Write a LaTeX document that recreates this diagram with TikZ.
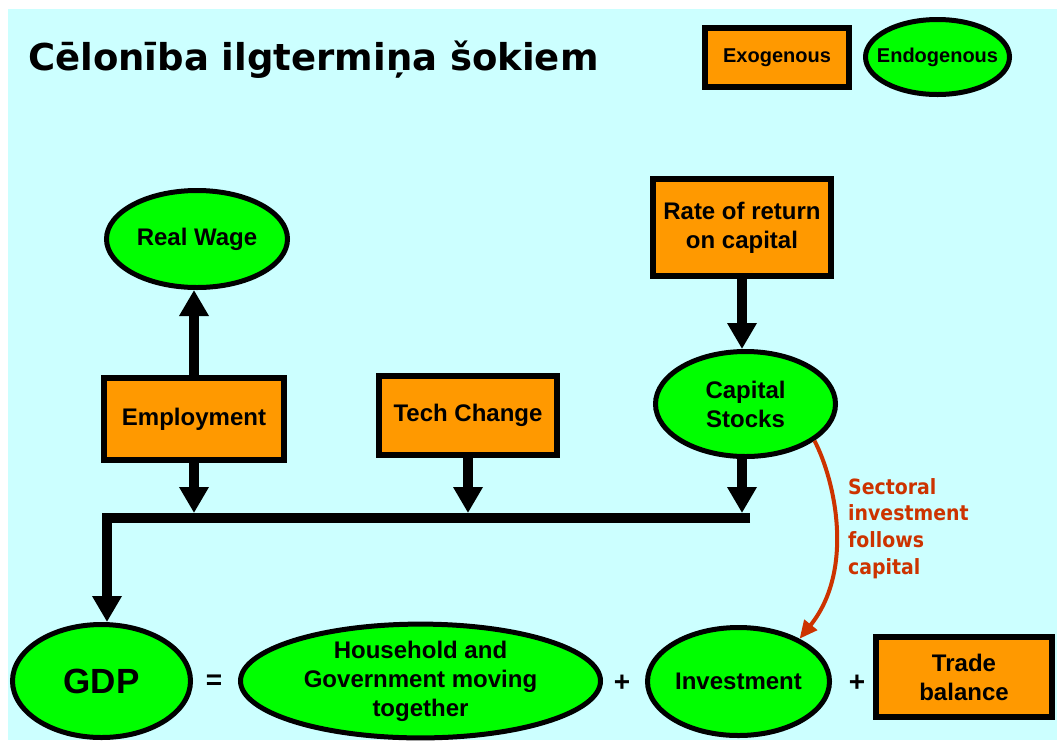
\documentclass[tikz,border=0pt]{standalone}
\usepackage{fontspec}
\setmainfont{Liberation Sans}
\newfontfamily\titlefont{DejaVu Sans}
\newfontfamily\notefont[FakeStretch=0.9]{DejaVu Sans}
\usetikzlibrary{arrows.meta,shapes.geometric}
\definecolor{bgcyan}{RGB}{204,255,255}
\definecolor{endofill}{RGB}{0,255,0}
\definecolor{exofill}{RGB}{255,153,0}
\definecolor{notered}{RGB}{204,51,0}
\begin{document}
\begin{tikzpicture}[x=1pt,y=-1pt,
  labelfont/.style={font=\fontsize{24}{29}\selectfont\bfseries},
  exobox/.style={rectangle,draw=black,line width=6pt,fill=exofill,
    inner sep=0pt,align=center,labelfont},
  endonode/.style={ellipse,draw=black,line width=5pt,fill=endofill,
    inner sep=0pt,align=center,labelfont},
  flow/.style={line width=10pt,line join=miter,
    -{Triangle[width=28pt,length=26pt]}},
  note/.style={line width=4pt,draw=notered,
    -{Triangle[width=16pt,length=18pt]}},
  opsign/.style={font=\fontsize{28}{30}\selectfont\bfseries}]

% page and background
\useasboundingbox (0,0) rectangle (1057,740);
\fill[white] (0,0) rectangle (1057,740);
\fill[bgcyan] (8,9) rectangle (1057,740);

% title and legend
\node[anchor=base west,inner sep=0pt,font=\titlefont\fontsize{37}{40}\selectfont\bfseries]
  (title) at (28,70) {Cēlonība ilgtermiņa šokiem};
\node[exobox,minimum width=144pt,minimum height=59pt,
  font=\fontsize{20}{24}\selectfont\bfseries] (legexo) at (777,57.5) {Exogenous};
\node[endonode,minimum width=144pt,minimum height=75pt,inner xsep=-11pt,
  font=\fontsize{20}{24}\selectfont\bfseries] (legendo) at (937.5,57) {Endogenous};

% upper nodes
\node[endonode,minimum width=181pt,minimum height=97pt] (rw) at (197,239) {Real Wage};
\node[exobox,minimum width=180pt,minimum height=82pt] (emp) at (194,419) {Employment};
\node[exobox,minimum width=178pt,minimum height=79pt] (tech) at (468,415.5) {Tech Change};
\node[exobox,minimum width=178pt,minimum height=97pt] (rate) at (742,227.5) {Rate of return\\on capital};
\node[endonode,minimum width=180pt,minimum height=105pt] (cs) at (745.5,404) {Capital\\Stocks};

% bottom row
\node[endonode,minimum width=178pt,minimum height=113pt,
  font=\fontsize{35}{40}\selectfont\bfseries] (gdp) at (101.5,681) {GDP};
\node[opsign] (eq) at (214,682) {=};
\node[endonode,minimum width=360pt,minimum height=113pt] (hh) at (420.5,681)
  {Household and\\Government moving\\together};
\node[opsign] (plusa) at (622,683) {+};
\node[endonode,minimum width=182pt,minimum height=108pt] (inv) at (738.5,681.5) {Investment};
\node[opsign] (plusb) at (857,683) {+};
\node[exobox,minimum width=176pt,minimum height=80pt] (trade) at (964,677) {Trade\\balance};

% collecting bar
\coordinate (barL) at (107,518);
\coordinate (barR) at (750,518);
\coordinate (bartop) at (0,513);

% connectors
\draw[flow] (emp.north) -- (rw.south -| emp.north);
\draw[flow] (emp.south) -- (emp.south |- bartop);
\draw[flow] (tech.south) -- (tech.south |- bartop);
\draw[flow] (rate.south) -- (rate.south |- cs.north);
\draw[flow] (cs.south -| rate.south) -- (rate.south |- bartop);
\draw[flow] (barR) -- (barL) -- (barL |- gdp.north);

% sectoral investment link
\draw[note] (cs.-28) .. controls (835,480) and (855,570) .. (inv.35);
\node[anchor=north west,inner sep=0pt,align=left,text=notered,
  font=\notefont\fontsize{21}{26.7}\selectfont\bfseries] (notetext) at (848,478)
  {Sectoral\\investment\\follows\\capital};
\end{tikzpicture}
\end{document}
